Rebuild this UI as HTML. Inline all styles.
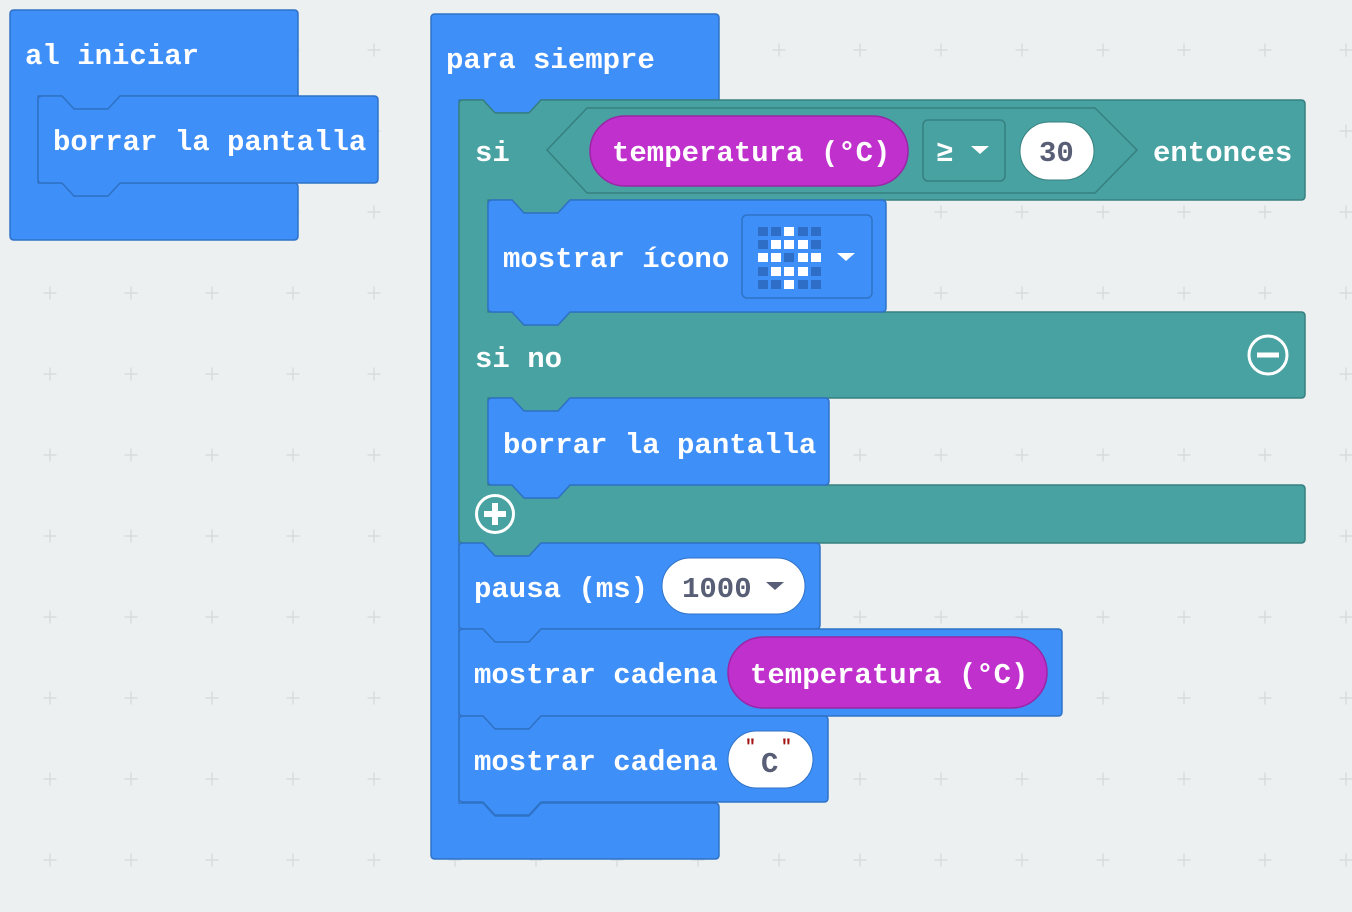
<!DOCTYPE html>
<html><head><meta charset="utf-8"><style>
html,body{margin:0;padding:0;background:#ecf0f1;}
svg{display:block}
text{font-family:"Liberation Mono",monospace;font-weight:bold;font-size:29px;fill:#fff;letter-spacing:0px}
.b{fill:#3f8ff8;stroke:#2f72c6;stroke-width:1.5;stroke-linejoin:round}
.t{fill:#48a2a2;stroke:#37807f;stroke-width:1.5;stroke-linejoin:round}
.m{fill:#c030cd;stroke:#9a26a6;stroke-width:1.5}
.w{fill:#fff;stroke:#2f72c6;stroke-width:1}
.d{fill:#575e75}
</style></head><body>
<svg width="1352" height="912" viewBox="0 0 1352 912" xmlns="http://www.w3.org/2000/svg">
<defs>
<pattern id="g" x="9.5" y="9.5" width="81" height="81" patternUnits="userSpaceOnUse">
<path d="M40.5 34v13M34 40.5h13" stroke="#d3d9dc" stroke-width="1.3"/>
</pattern>
</defs>
<rect width="1352" height="912" fill="#ecf0f1"/>
<rect width="1352" height="912" fill="url(#g)"/>

<path class="b" d="M10,14 q0,-4 4,-4 H294 q4,0 4,4 V96 H120 l-12,13 h-34 l-12,-13 H38 V183 H62 l12,13 h34 l12,-13 H294 q4,0 4,4 V236 q0,4 -4,4 H14 q-4,0 -4,-4 Z"/>
<text x="25" y="64">al iniciar</text>
<path class="b" d="M38,100 q0,-4 4,-4 H62 l12,13 h34 l12,-13 H374 q4,0 4,4 V179 q0,4 -4,4 H120 l-12,13 h-34 l-12,-13 H42 q-4,0 -4,-4 Z"/>
<text x="53" y="150">borrar la pantalla</text>

<path class="b" d="M431,18 q0,-4 4,-4 H715 q4,0 4,4 V100 H541 l-12,13 h-34 l-12,-13 H459 V803 H483 l12,13 h34 l12,-13 H715 q4,0 4,4 V855 q0,4 -4,4 H435 q-4,0 -4,-4 Z"/>
<text x="446" y="68">para siempre</text>

<path class="t" d="M459,104 q0,-4 4,-4 H483 l12,13 h34 l12,-13 H1301 q4,0 4,4 V196 q0,4 -4,4 H570 l-12,13 h-34 l-12,-13 H488 V312 H512 l12,13 h34 l12,-13 H1301 q4,0 4,4 V394 q0,4 -4,4 H570 l-12,13 h-34 l-12,-13 H488 V485 H512 l12,13 h34 l12,-13 H1301 q4,0 4,4 V539 q0,4 -4,4 H541 l-12,13 h-34 l-12,-13 H463 q-4,0 -4,-4 Z"/>
<text x="475" y="161">si</text>
<path d="M547,150 L587,108 H1095 L1137,150 L1095,193 H587 Z" fill="#48a2a2" stroke="#37807f" stroke-width="1.5"/>
<rect class="m" x="590" y="116" width="318" height="70" rx="35"/>
<text x="612" y="161">temperatura (°C)</text>
<rect x="923" y="120" width="82" height="61" rx="5" fill="#48a2a2" stroke="#37807f" stroke-width="1.5"/>
<text x="936" y="161">≥</text>
<path d="M971,146 h18 l-9,8 Z" fill="#fff"/>
<rect x="1020" y="122" width="74" height="58" rx="29" fill="#fff" stroke="#37807f" stroke-width="1"/>
<text x="1039" y="161" class="d">30</text>
<text x="1153" y="161">entonces</text>

<path class="b" d="M488,204 q0,-4 4,-4 H512 l12,13 h34 l12,-13 H882 q4,0 4,4 V308 q0,4 -4,4 H570 l-12,13 h-34 l-12,-13 H492 q-4,0 -4,-4 Z"/>
<text x="503" y="267">mostrar ícono</text>
<rect x="742" y="215" width="130" height="83" rx="5" fill="#3f8ff8" stroke="#2f72c6" stroke-width="1.5"/>
<g fill="#2e6ec7">
<rect x="758" y="227" width="10" height="9"/><rect x="771" y="227" width="10" height="9"/><rect x="798" y="227" width="10" height="9"/><rect x="811" y="227" width="10" height="9"/>
<rect x="758" y="240" width="10" height="9"/><rect x="811" y="240" width="10" height="9"/>
<rect x="784" y="253" width="10" height="9"/>
<rect x="758" y="267" width="10" height="9"/><rect x="811" y="267" width="10" height="9"/>
<rect x="758" y="280" width="10" height="9"/><rect x="771" y="280" width="10" height="9"/><rect x="798" y="280" width="10" height="9"/><rect x="811" y="280" width="10" height="9"/>
</g>
<g fill="#fff">
<rect x="784" y="227" width="10" height="9"/>
<rect x="771" y="240" width="10" height="9"/><rect x="784" y="240" width="10" height="9"/><rect x="798" y="240" width="10" height="9"/>
<rect x="758" y="253" width="10" height="9"/><rect x="771" y="253" width="10" height="9"/><rect x="798" y="253" width="10" height="9"/><rect x="811" y="253" width="10" height="9"/>
<rect x="771" y="267" width="10" height="9"/><rect x="784" y="267" width="10" height="9"/><rect x="798" y="267" width="10" height="9"/>
<rect x="784" y="280" width="10" height="9"/>
</g>
<path d="M837,253 h18 l-9,8 Z" fill="#fff"/>

<text x="475" y="367">si no</text>
<circle cx="1268" cy="355" r="19" fill="none" stroke="#fff" stroke-width="3"/>
<path d="M1257,355 h22" stroke="#fff" stroke-width="5"/>

<path class="b" d="M488,402 q0,-4 4,-4 H512 l12,13 h34 l12,-13 H825 q4,0 4,4 V481 q0,4 -4,4 H570 l-12,13 h-34 l-12,-13 H492 q-4,0 -4,-4 Z"/>
<text x="503" y="453">borrar la pantalla</text>

<circle cx="495" cy="514" r="18.5" fill="none" stroke="#fff" stroke-width="3"/>
<path d="M495,503 v22 M484,514 h22" stroke="#fff" stroke-width="6"/>

<path class="b" d="M459,547 q0,-4 4,-4 H483 l12,13 h34 l12,-13 H816 q4,0 4,4 V625 q0,4 -4,4 H541 l-12,13 h-34 l-12,-13 H463 q-4,0 -4,-4 Z"/>
<text x="474" y="597">pausa (ms)</text>
<rect class="w" x="662" y="558" width="143" height="56" rx="28"/>
<text x="682" y="597" class="d">1000</text>
<path d="M766,582 h18 l-9,8 Z" fill="#575e75"/>

<path class="b" d="M459,633 q0,-4 4,-4 H483 l12,13 h34 l12,-13 H1058 q4,0 4,4 V712 q0,4 -4,4 H541 l-12,13 h-34 l-12,-13 H463 q-4,0 -4,-4 Z"/>
<text x="474" y="683">mostrar cadena</text>
<rect class="m" x="728" y="637" width="319" height="71" rx="35.5"/>
<text x="750" y="683">temperatura (°C)</text>

<path class="b" d="M459,720 q0,-4 4,-4 H483 l12,13 h34 l12,-13 H824 q4,0 4,4 V798 q0,4 -4,4 H541 l-12,13 h-34 l-12,-13 H463 q-4,0 -4,-4 Z"/>
<text x="474" y="770">mostrar cadena</text>
<rect class="w" x="728" y="731" width="85" height="57" rx="28.5"/>
<text x="761" y="772" class="d">C</text>
<text x="745" y="752" style="fill:#a31515;font-size:18px">"</text>
<text x="781" y="752" style="fill:#a31515;font-size:18px">"</text>
</svg>
</body></html>
